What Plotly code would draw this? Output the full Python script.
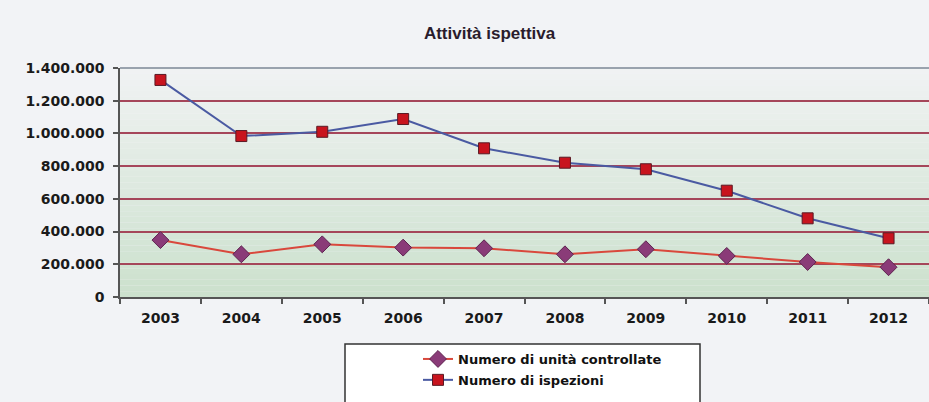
import plotly.graph_objects as go

years = ["2003", "2004", "2005", "2006", "2007", "2008", "2009", "2010", "2011", "2012"]
unita_controllate = [348000, 261000, 322000, 302000, 298000, 261000, 292000, 251000, 214000, 182000]
ispezioni = [1327000, 984000, 1010000, 1088000, 909000, 821000, 781000, 650000, 481000, 359000]
y_ticks = [0, 200000, 400000, 600000, 800000, 1000000, 1200000, 1400000]
y_tick_labels = ["0", "200.000", "400.000", "600.000", "800.000", "1.000.000", "1.200.000", "1.400.000"]

W, H = 929, 402
ML, MR, MT, MB = 120, 0, 68, 105

fig = go.Figure()

fig.add_trace(go.Scatter(
    x=years, y=unita_controllate, mode="lines+markers",
    name="<b>Numero di unità controllate</b>", legendgroup="a",
    line=dict(color="#d9483c", width=2),
    marker=dict(symbol="diamond", size=13, color="#8a3b78",
                line=dict(color="#5e2350", width=1)),
))
fig.add_trace(go.Scatter(
    x=years, y=ispezioni, mode="lines+markers",
    name="<b>Numero di ispezioni</b>", legendgroup="b",
    line=dict(color="#4a5aa2", width=2),
    marker=dict(symbol="square", size=11, color="#c8141e",
                line=dict(color="#5a1a24", width=1)),
))

# gradient plot background (styling bands)
def lerp(c1, c2, t):
    return "rgb(%d,%d,%d)" % tuple(round(a + (b - a) * t) for a, b in zip(c1, c2))

top_c = (240, 242, 243)
bot_c = (204, 225, 205)
n = 40
shapes = []
for i in range(n):
    t = i / (n - 1)
    shapes.append(dict(type="rect", xref="paper", yref="paper",
                       x0=0, x1=1, y0=1 - (i + 1) / n, y1=1 - i / n,
                       fillcolor=lerp(top_c, bot_c, t), line=dict(width=0),
                       layer="below"))
# top border of plot area
shapes.append(dict(type="line", xref="paper", yref="paper", x0=0, x1=1, y0=1, y1=1,
                   line=dict(color="#7d8796", width=1.5), layer="above"))
# legend frame
pw = W - ML - MR
ph = H - MT - MB
lx0, lx1, ly0 = 345, 700, 344
shapes.append(dict(type="rect", xref="paper", yref="paper",
                   x0=(lx0 - ML) / pw, x1=(lx1 - ML) / pw,
                   y0=(H - MB - ly0) / ph, y1=(H - MB - 420) / ph,
                   fillcolor="#ffffff", line=dict(color="#333333", width=1.5),
                   layer="below"))

fig.update_layout(
    width=W, height=H,
    margin=dict(l=ML, r=MR, t=MT, b=MB, pad=0),
    paper_bgcolor="#f2f3f6",
    plot_bgcolor="rgba(0,0,0,0)",
    title=dict(text="Attività ispettiva", x=0.527, xanchor="center",
               y=1 - 33 / H, yanchor="middle", xref="container", yref="container",
               font=dict(family="Liberation Sans", size=17, color="#2a1c2c",
                         weight="bold")),
    shapes=shapes,
    showlegend=True,
    legend=dict(x=(418 - ML) / pw, xanchor="left",
                y=(H - MB - 344) / ph, yanchor="top",
                bgcolor="rgba(0,0,0,0)", borderwidth=0,
                traceorder="grouped", tracegroupgap=1,
                font=dict(family="DejaVu Sans", size=13, color="#111111")),
    xaxis=dict(type="category", range=[-0.5, 9.5], tickson="boundaries",
               showgrid=False, showline=True, linecolor="#555555", linewidth=1.5,
               ticks="outside", ticklen=5, tickcolor="#555555", tickwidth=1.5,
               ticklabelstandoff=7,
               tickfont=dict(family="DejaVu Sans", size=14, color="#1a1a1a",
                             weight="bold"),
               zeroline=False),
    yaxis=dict(range=[0, 1400000], tickvals=y_ticks, ticktext=y_tick_labels,
               showgrid=True, gridcolor="#a5465a", gridwidth=1.5,
               showline=True, linecolor="#555555", linewidth=1.5,
               ticks="outside", ticklen=5, tickcolor="#555555", tickwidth=1.5,
               ticklabelstandoff=6,
               tickfont=dict(family="DejaVu Sans", size=14, color="#1a1a1a",
                             weight="bold"),
               zeroline=False),
)

fig.write_html("out.html", config={"displayModeBar": False},
               post_script="document.body.style.margin='0';")
